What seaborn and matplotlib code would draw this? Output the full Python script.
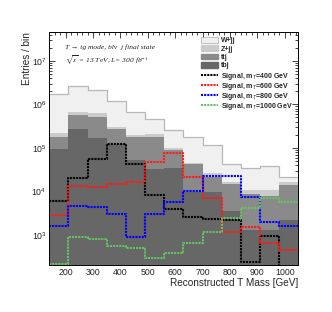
import numpy as np
import pandas as pd
import seaborn as sns
import matplotlib.pyplot as plt
from matplotlib.patches import Patch, Rectangle
from matplotlib.lines import Line2D
from matplotlib.legend_handler import HandlerPatch
from matplotlib.ticker import MultipleLocator, LogLocator, NullFormatter

sns.set_style("ticks")
plt.rcParams['font.family'] = ['Liberation Sans', 'DejaVu Sans']
plt.rcParams['mathtext.fontset'] = 'custom'
plt.rcParams['mathtext.rm'] = 'Liberation Sans'
plt.rcParams['mathtext.it'] = 'Liberation Sans:italic'
plt.rcParams['mathtext.bf'] = 'Liberation Sans:bold'

# bin edges of the reconstructed T mass [GeV]
bin_edges = [140, 210, 280, 350, 420, 490, 560, 630, 700, 770, 840, 910, 980, 1050]

# backgrounds, entries per bin (stacked)
wjj = [1.52e6, 2.03e6, 1.46e6, 8.7e5, 4.56e5, 2.47e5, 1.57e5, 1.36e5, 9.0e4, 2.64e4, 2.4e4, 2.78e4, 5.0e3]
zjj = [4.2e4, 1.1e5, 1.14e5, 3.1e4, 2.0e4, 3.1e4, 1.2e4, 3.0e3, 5.1e3, 1.6e3, 2.0e3, 2.9e3, 2.4e3]
ttj = [8.4e4, 3.0e5, 3.54e5, 1.49e5, 1.26e5, 1.46e5, 5.5e4, 3.3e4, 1.18e4, 1.13e4, 7.5e3, 6.6e3, 1.19e4]
tbj = [9.5e4, 2.73e5, 1.70e5, 1.24e5, 5.3e4, 3.3e4, 3.5e4, 9.7e3, 9.7e3, 3.6e3, 1.3e3, 1.3e3, 2.2e3]

# signals, entries per bin
sig400 = [6.05e3, 1.99e4, 5.44e4, 1.24e5, 4.29e4, 8.5e3, 3.9e3, 2.53e3, 2.3e3, 2.2e3, 2.43e2, 9.6e2, 1.0e2]
sig600 = [2.88e3, 1.34e4, 1.25e4, 1.49e4, 1.67e4, 4.84e4, 7.55e4, 2.19e4, 7.1e3, 1.2e3, 1.55e3, 6.65e2, 4.5e2]
sig800 = [1.61e3, 4.64e3, 4.4e3, 2.96e3, 9.2e2, 3.04e3, 5.83e3, 1.03e4, 2.21e4, 2.21e4, 7.28e3, 2.02e3, 1.61e3]
sig1000 = [2.1e2, 8.76e2, 7.88e2, 5.59e2, 4.95e2, 2.96e2, 3.92e2, 6.44e2, 1.19e3, 2.5e3, 4.24e3, 7.2e3, 5.58e3]

bkg_names = ['W+jj', 'Z+jj', 'ttj', 'tbj']
bkg_colors = ['#f0f0f0', '#cbcbcb', '#8a8a8a', '#676767']
sig_names = ['Signal, m$_{T}$=400 GeV', 'Signal, m$_{T}$=600 GeV',
             'Signal, m$_{T}$=800 GeV', 'Signal, m$_{T}$=1000 GeV']
sig_colors = ['black', '#ff1a1a', '#0000ff', '#66c266']

centers = list((np.array(bin_edges[:-1]) + np.array(bin_edges[1:])) / 2)
bkg = pd.DataFrame({
    'mass': centers * 4,
    'weight': wjj + zjj + ttj + tbj,
    'process': sum([[n] * len(centers) for n in bkg_names], []),
})

fig = plt.figure(figsize=(3.32, 3.12), dpi=100)
ax = fig.add_axes([0.1485, 0.1506, 0.75, 0.7468])
ax.set_yscale('log')

sns.histplot(data=bkg, x='mass', weights='weight', hue='process', hue_order=bkg_names,
             multiple='stack', bins=bin_edges, element='step',
             palette=dict(zip(bkg_names, bkg_colors)), alpha=1, linewidth=0,
             legend=False, ax=ax)

# outline of the total background
total = list(np.sum([wjj, zjj, ttj, tbj], axis=0))
sns.histplot(x=centers, weights=total, bins=bin_edges, element='step', fill=False,
             color='#b8b8b8', linewidth=0.9, ax=ax)

dots = (0, (1, 0.5))
for vals, c in zip([sig400, sig600, sig800, sig1000], sig_colors):
    sns.histplot(x=centers, weights=vals, bins=bin_edges, element='step', fill=False,
                 color=c, linewidth=1.5, linestyle=dots, ax=ax)

ax.set_xlim(140, 1050)
ax.set_ylim(2.04e2, 4.6e7)

ax.xaxis.set_major_locator(MultipleLocator(100))
ax.xaxis.set_minor_locator(MultipleLocator(20))
ax.yaxis.set_major_locator(LogLocator(base=10))
ax.yaxis.set_minor_locator(LogLocator(base=10, subs=np.arange(2, 10)))
ax.yaxis.set_minor_formatter(NullFormatter())
ax.tick_params(which='both', direction='in', top=True, right=True, width=0.6, labelsize=6.3, pad=2)
ax.tick_params(which='major', length=4)
ax.tick_params(which='minor', length=2)
for s in ax.spines.values():
    s.set_linewidth(0.7)
    s.set_color('black')

ax.set_xlabel('Reconstructed T Mass [GeV]', fontsize=7.2, ha='right')
ax.xaxis.set_label_coords(1.0, -0.055)
ax.set_ylabel('Entries / bin', fontsize=7.2, ha='right')
ax.yaxis.set_label_coords(-0.07, 1.0)

ax.text(0.063, 0.936, 'T \u2192 tg mode, bl\u03bd  j final state', transform=ax.transAxes,
        fontsize=5.4, family=['Liberation Serif', 'DejaVu Serif'], style='italic', va='center')
ax.text(0.063, 0.876, r'$\sqrt{s}$ = 13 TeV, L= 300 fb$^{-1}$', transform=ax.transAxes,
        fontsize=5.4, family=['Liberation Serif', 'DejaVu Serif'], style='italic', va='center',
        math_fontfamily='stix')


def small_box(legend, orig_handle, xdescent, ydescent, width, height, fontsize):
    hh = 0.85 * fontsize
    return Rectangle((-xdescent, -ydescent + (height - hh) / 2), width, hh)


leg_kw = dict(loc='upper left', frameon=False, prop={'size': 5, 'weight': 'bold'},
              handlelength=2.4, handletextpad=0.45, borderaxespad=0, borderpad=0)

bkg_handles = [Patch(facecolor=bkg_colors[0], edgecolor='#b8b8b8', linewidth=0.6)]
bkg_handles += [Patch(facecolor=c, edgecolor=c) for c in bkg_colors[1:]]
leg1 = ax.legend(bkg_handles, bkg_names, bbox_to_anchor=(0.61, 0.982), handleheight=1.35,
                 labelspacing=0.0, handler_map={Patch: HandlerPatch(patch_func=small_box)},
                 **leg_kw)
ax.add_artist(leg1)

sig_handles = [Line2D([0], [0], color=c, linewidth=1.5, linestyle=dots) for c in sig_colors]
ax.legend(sig_handles, sig_names, bbox_to_anchor=(0.61, 0.834), handleheight=1.35,
          labelspacing=-0.12, **leg_kw)

fig.savefig('out.png', dpi=100)
